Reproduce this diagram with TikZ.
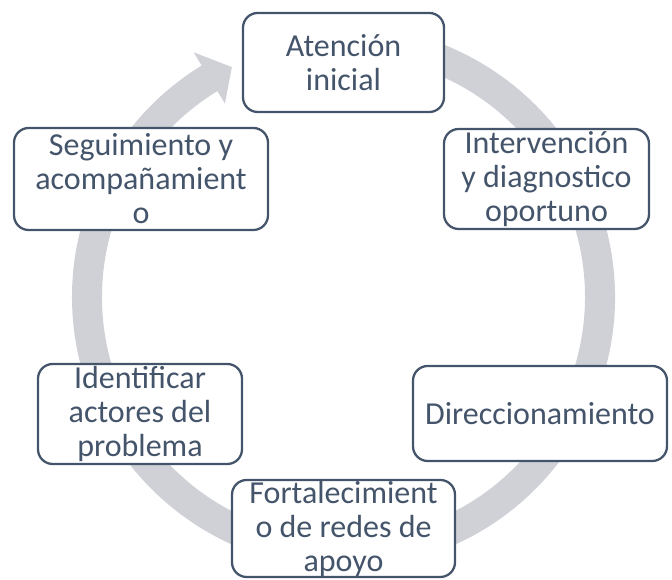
\documentclass[tikz,border=0pt]{standalone}
\usepackage{fontspec}
\setmainfont{Carlito}
\usetikzlibrary{calc}
\definecolor{tx}{HTML}{44546A}
\definecolor{ring}{RGB}{207,209,214}
\begin{document}
\begin{tikzpicture}[x=0.75pt,y=0.75pt,
  box/.style={draw=tx, line width=1.7pt, rounded corners=11pt, fill=white,
    align=center, inner sep=0pt, text=tx,
    font=\fontsize{24}{25.5}\selectfont}]
\useasboundingbox (0,0) rectangle (672,580);
\coordinate (C) at (343.5,283);
% circular arrow
\fill[ring] ($(C)+(100:203.625pt)$)
  arc[start angle=100, end angle=-238.5, radius=203.625pt]
  -- ($(C)+(-238.5:215.25pt)$)
  -- ($(C)+(-244.1:191.7pt)$)
  -- ($(C)+(-238.5:170.25pt)$)
  -- ($(C)+(-238.5:181.125pt)$)
  arc[start angle=-238.5, end angle=100, radius=181.125pt]
  -- cycle;
% boxes
\node[box, minimum width=150.75pt, minimum height=74.25pt] (a) at (343.5,517.5) {Atención\\inicial};
\node[box, minimum width=153.75pt, minimum height=75pt] (b) at (546.5,401) {Intervención\\y diagnostico\\oportuno};
\node[box, minimum width=190.5pt, minimum height=71.25pt] (c) at (540,166.5) {Direccionamiento};
\node[box, minimum width=167.25pt, minimum height=72.75pt] (d) at (343.5,51.5) {Fortalecimient\\o de redes de\\apoyo};
\node[box, minimum width=153pt, minimum height=75pt] (e) at (140,166) {Identificar\\actores del\\problema};
\node[box, minimum width=190.5pt, minimum height=76.5pt] (f) at (141,401) {Seguimiento y\\acompañamient\\o};
\end{tikzpicture}
\end{document}
